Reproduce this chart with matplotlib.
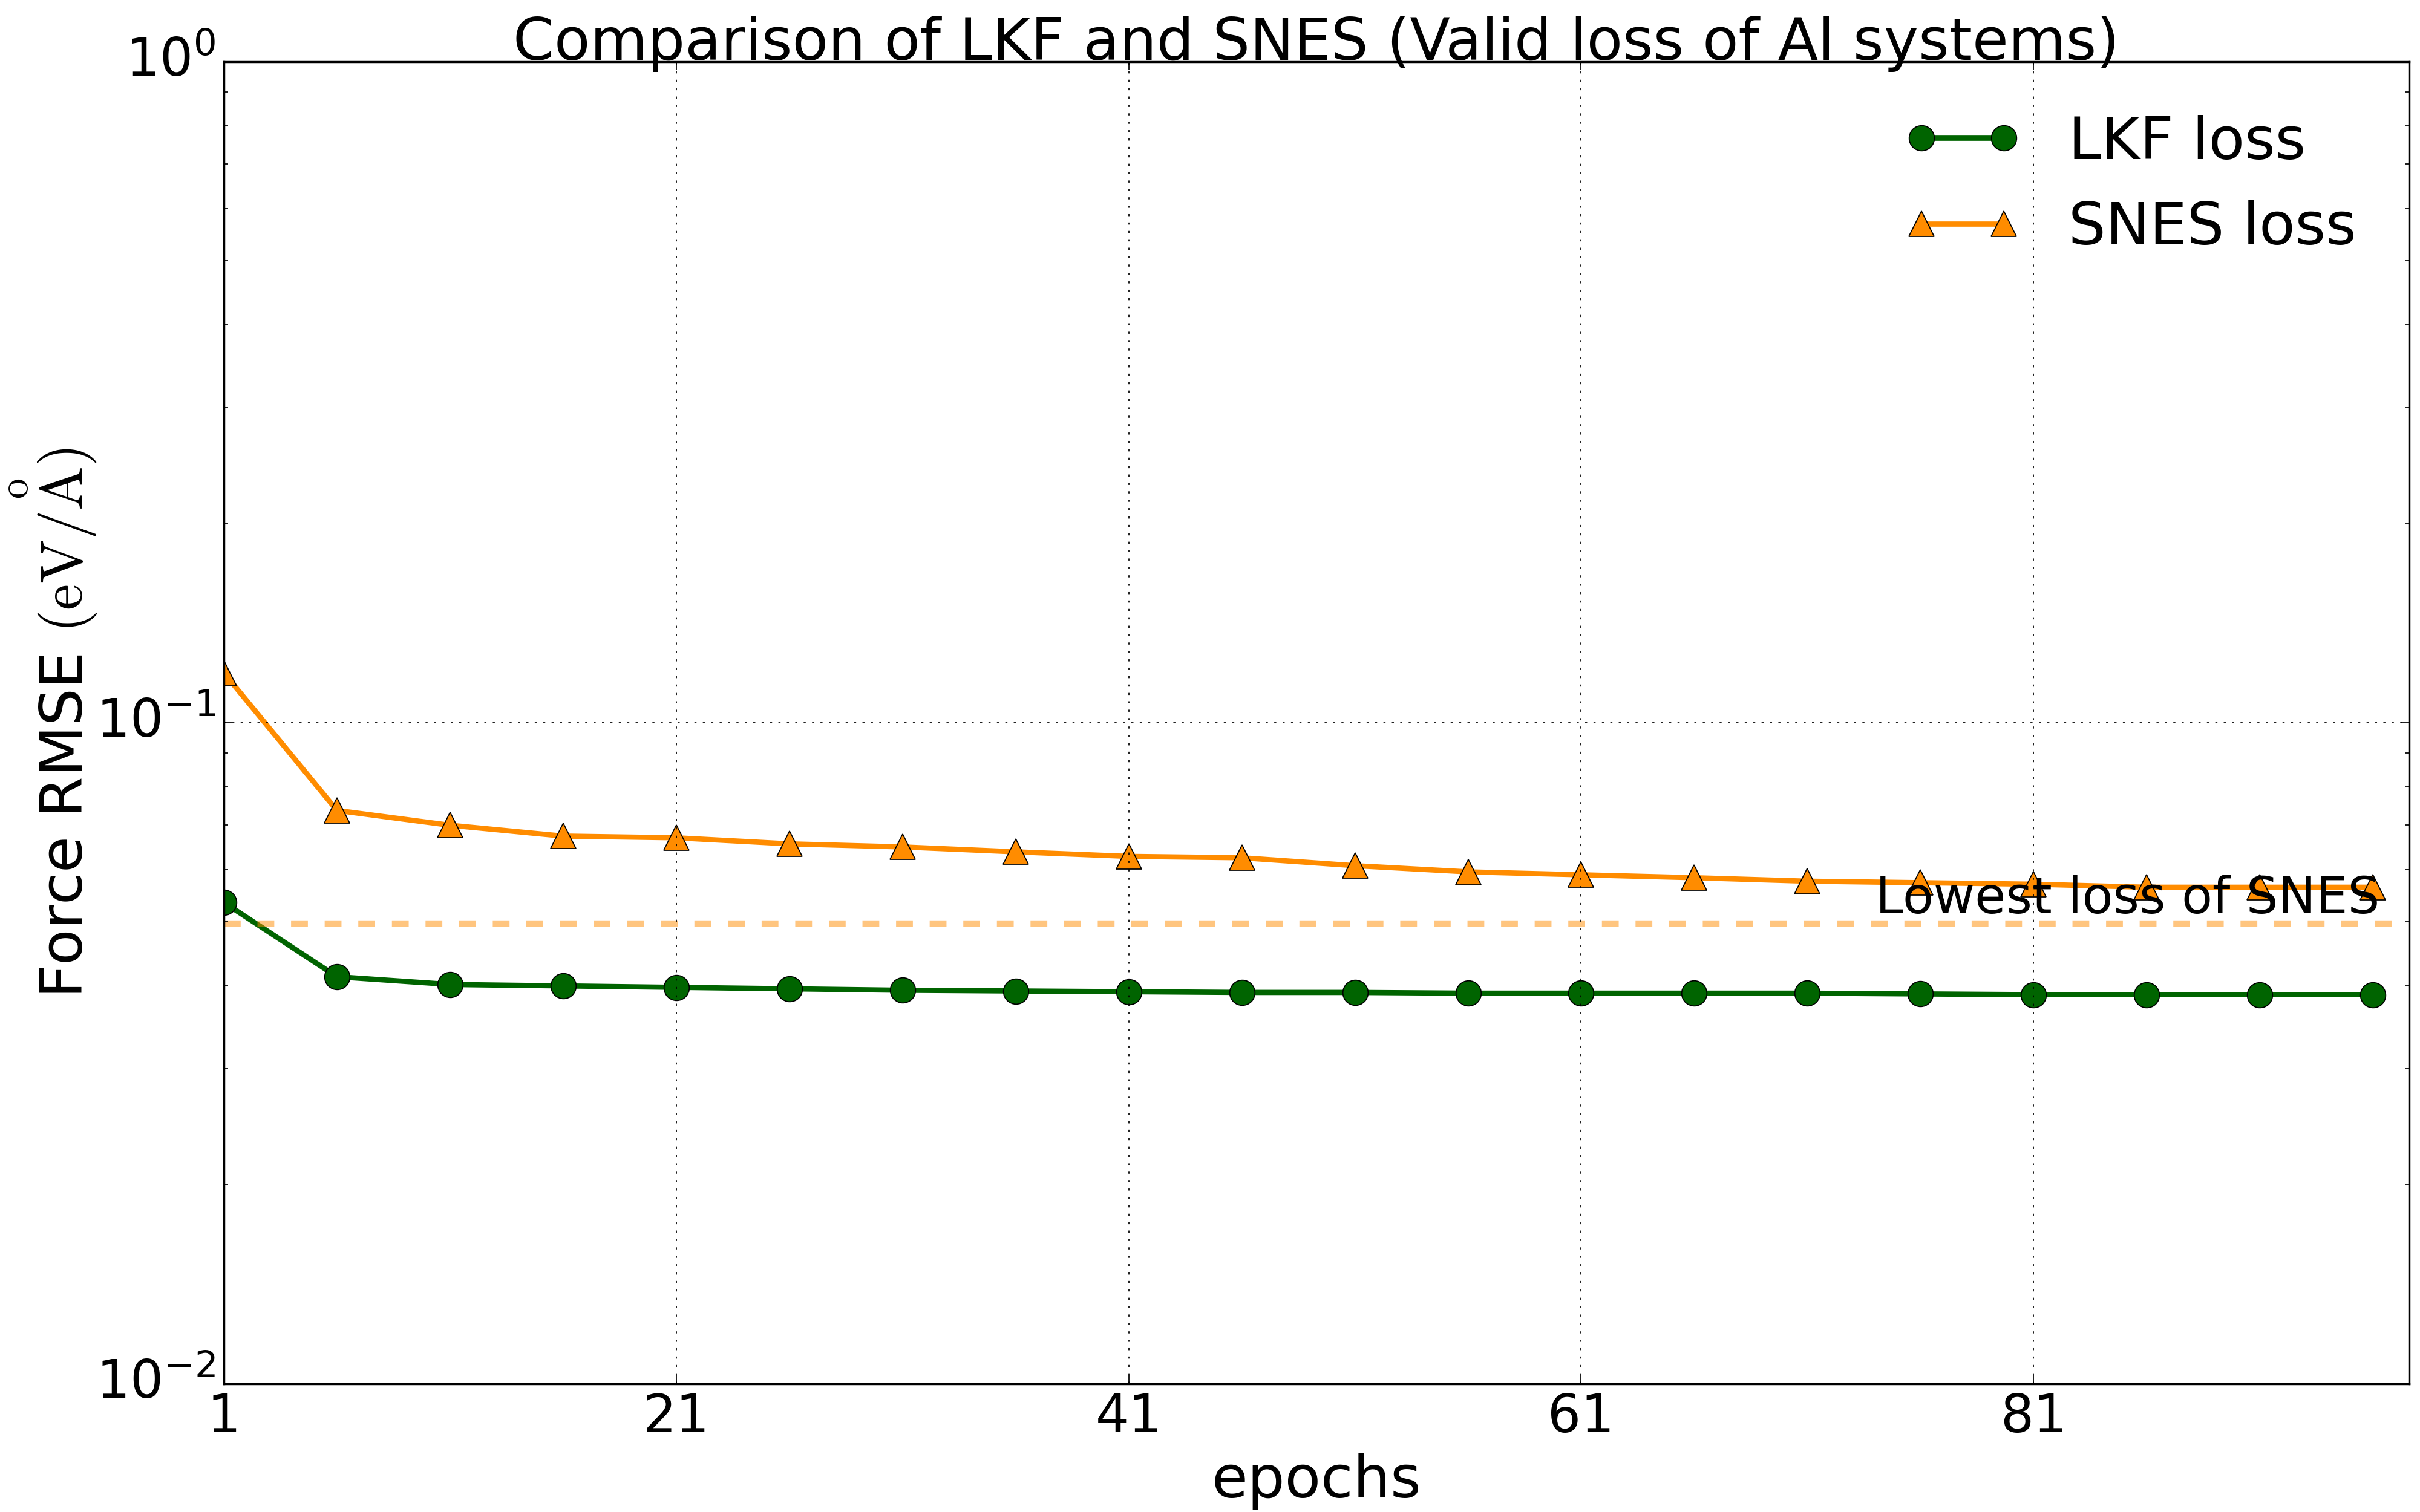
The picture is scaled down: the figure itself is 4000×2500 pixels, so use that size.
import numpy as np
import matplotlib
matplotlib.use("Agg")
import matplotlib.pyplot as plt

plt.style.use("classic")

# ── Data ────────────────────────────────────────────────────────────────────
epochs = [1, 6, 11, 16, 21, 26, 31, 36, 41, 46,
          51, 56, 61, 66, 71, 76, 81, 86, 91, 96]
lkf_loss = [0.0535, 0.0413, 0.0402, 0.0400, 0.0398, 0.0396, 0.0394, 0.0393,
            0.0392, 0.0391, 0.0391, 0.0390, 0.0390, 0.0390, 0.0390, 0.0389,
            0.0388, 0.0388, 0.0388, 0.0388]
snes_loss = [0.1190, 0.0737, 0.0700, 0.0674, 0.0670, 0.0656, 0.0649, 0.0638,
             0.0628, 0.0625, 0.0608, 0.0595, 0.0589, 0.0583, 0.0576, 0.0573,
             0.0570, 0.0564, 0.0564, 0.0564]
snes_lowest = 0.0497
xticks = [1, 21, 41, 61, 81]

fig = plt.figure(figsize=(16, 10), dpi=250, facecolor="white")
ax = fig.add_axes([0.0925, 0.0847, 0.903, 0.8745])

ax.plot(epochs, lkf_loss, color="#006400", lw=2.5, marker="o", ms=12,
        mec="black", mew=0.5, label="LKF loss")
ax.plot(epochs, snes_loss, color="#FF8C00", lw=2.5, marker="^", ms=12,
        mec="black", mew=0.5, label="SNES loss")
ax.axhline(snes_lowest, color="#FF8C00", alpha=0.5, lw=3, ls=(0, (8, 8)))
ax.text(74, 0.0515, "Lowest loss of SNES", fontsize=24, ha="left", va="baseline")

ax.set_yscale("log")
ax.set_ylim(1e-2, 1e0)
ax.set_xlim(1, 97.6)
ax.set_xticks(xticks)
ax.grid(True, which="major")
ax.tick_params(labelsize=25)

ax.set_title("Comparison of LKF and SNES (Valid loss of Al systems)",
             fontsize=28, pad=1)
ax.set_xlabel("epochs", fontsize=28)
ax.set_ylabel(r"Force RMSE $\rm (eV/\overset{o}{A})$", fontsize=28)
ax.yaxis.set_label_coords(-0.057, 0.5)
ax.legend(loc="upper right", frameon=False, fontsize=28, handlelength=2,
          labelspacing=0.5, numpoints=2)

fig.savefig("out.png", dpi=250, facecolor="white")
